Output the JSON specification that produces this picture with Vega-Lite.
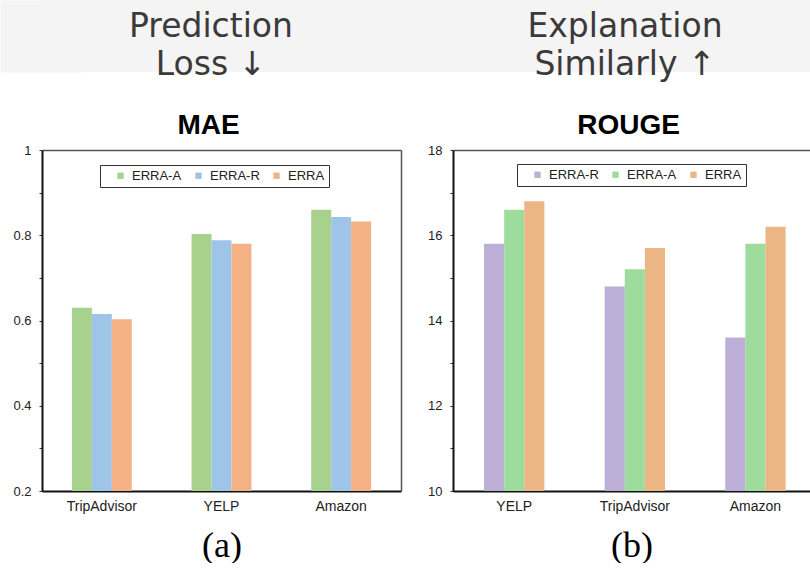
{
  "$schema": "https://vega.github.io/schema/vega-lite/v6.json",
  "background": "white",
  "padding": 0,
  "config": {"view": {"stroke": null}},
  "datasets": {
    "head": [
      {"panel": "a", "label": "Prediction\nLoss ↓"},
      {"panel": "b", "label": "Explanation\nSimilarly ↑"}
    ],
    "mae": [
      {"dataset": "TripAdvisor", "model": "ERRA-A", "value": 0.630},
      {"dataset": "TripAdvisor", "model": "ERRA-R", "value": 0.615},
      {"dataset": "TripAdvisor", "model": "ERRA", "value": 0.603},
      {"dataset": "YELP", "model": "ERRA-A", "value": 0.803},
      {"dataset": "YELP", "model": "ERRA-R", "value": 0.788},
      {"dataset": "YELP", "model": "ERRA", "value": 0.780},
      {"dataset": "Amazon", "model": "ERRA-A", "value": 0.860},
      {"dataset": "Amazon", "model": "ERRA-R", "value": 0.843},
      {"dataset": "Amazon", "model": "ERRA", "value": 0.832}
    ],
    "rouge": [
      {"dataset": "YELP", "model": "ERRA-R", "value": 15.8},
      {"dataset": "YELP", "model": "ERRA-A", "value": 16.6},
      {"dataset": "YELP", "model": "ERRA", "value": 16.8},
      {"dataset": "TripAdvisor", "model": "ERRA-R", "value": 14.8},
      {"dataset": "TripAdvisor", "model": "ERRA-A", "value": 15.2},
      {"dataset": "TripAdvisor", "model": "ERRA", "value": 15.7},
      {"dataset": "Amazon", "model": "ERRA-R", "value": 13.6},
      {"dataset": "Amazon", "model": "ERRA-A", "value": 15.8},
      {"dataset": "Amazon", "model": "ERRA", "value": 16.2}
    ]
  },
  "vconcat": [
    {
      "width": 768,
      "height": 72,
      "view": {"fill": "#f4f4f4", "stroke": null},
      "data": {"name": "head"},
      "mark": {"type": "text", "font": "DejaVu Sans", "fontSize": 33, "color": "#3a3a3a", "lineBreak": "\n", "baseline": "alphabetic", "align": "center", "lineHeight": 38, "dx": -8, "dy": -35},
      "encoding": {
        "x": {"field": "panel", "type": "nominal", "scale": {"type": "point", "padding": 0.4275}, "axis": null},
        "y": {"datum": 0, "type": "quantitative", "scale": {"domain": [0, 1]},
          "axis": {"orient": "left", "title": null, "labels": false, "ticks": false, "grid": false, "domain": true, "domainColor": "#f4f4f4", "domainWidth": 84, "domainCap": "butt", "minExtent": 0, "maxExtent": 0}},
        "text": {"field": "label", "type": "nominal"}
      }
    },
    {
      "hconcat": [
        {
          "width": 359,
          "height": 341,
          "title": {"text": "MAE", "font": "Liberation Sans", "fontSize": 28, "fontWeight": "bold", "color": "#000", "anchor": "middle", "dx": -13},
          "data": {"name": "mae"},
          "layer": [
            {
              "mark": {"type": "bar", "clip": true},
              "encoding": {
                "x": {"field": "dataset", "type": "nominal", "sort": ["TripAdvisor", "YELP", "Amazon"],
                  "scale": {"paddingInner": 0.5, "paddingOuter": 0.25, "align": 0.5},
                  "axis": {"title": "(a)", "orient": "bottom", "labelAngle": 0, "ticks": false, "domainColor": "#111", "domainWidth": 2, "labelFont": "Liberation Sans", "labelFontSize": 14, "labelColor": "#222", "labelPadding": 8, "titleFont": "Liberation Serif", "titleFontSize": 36, "titleFontWeight": "normal", "titleColor": "#000", "titlePadding": 15}},
                "xOffset": {"field": "model", "type": "nominal", "sort": ["ERRA-A", "ERRA-R", "ERRA"], "scale": {"paddingInner": 0, "paddingOuter": 0}},
                "y": {"field": "value", "type": "quantitative", "scale": {"domain": [0.2, 1], "nice": false, "zero": false},
                  "axis": {"title": null, "grid": false, "values": [0.2, 0.3, 0.4, 0.5, 0.6, 0.7, 0.8, 0.9, 1], "labelExpr": "round(datum.value*10) % 2 == 0 ? (datum.value == 1 ? '1' : datum.label) : ''", "tickSize": 3, "tickColor": "#333", "domainColor": "#111", "domainWidth": 2, "labelFont": "Liberation Sans", "labelFontSize": 13, "labelColor": "#222", "labelPadding": 8, "minExtent": 42}},
                "color": {"field": "model", "type": "nominal", "sort": ["ERRA-A", "ERRA-R", "ERRA"],
                  "scale": {"domain": ["ERRA-A", "ERRA-R", "ERRA"], "range": ["#a8d18e", "#9ec4e8", "#f4b183"]},
                  "legend": {"title": null, "orient": "none", "legendX": 58, "legendY": 15, "direction": "horizontal", "columns": 3, "symbolType": "square", "symbolSize": 40, "symbolStrokeWidth": 0, "labelFont": "Liberation Sans", "labelFontSize": 13, "labelColor": "#222", "labelOffset": 5, "columnPadding": -2, "padding": 4, "symbolOffset": 10, "strokeColor": "#333", "fillColor": "#fff"}}
              }
            },
            {
              "mark": {"type": "bar", "opacity": 0, "clip": true},
              "encoding": {
                "x": {"field": "dataset", "type": "nominal", "sort": ["TripAdvisor", "YELP", "Amazon"],
                  "axis": {"orient": "top", "title": null, "labels": false, "ticks": false, "domainColor": "#555", "domainWidth": 1.5, "minExtent": 0, "maxExtent": 0, "offset": 0}},
                "y": {"field": "value", "type": "quantitative",
                  "axis": {"orient": "right", "title": null, "labels": false, "ticks": false, "grid": false, "domainColor": "#555", "domainWidth": 1.5, "minExtent": 0, "maxExtent": 0, "offset": 0}}
              }
            }
          ],
          "resolve": {"axis": {"x": "independent", "y": "independent"}}
        },
        {
          "width": 357,
          "height": 341,
          "title": {"text": "ROUGE", "font": "Liberation Sans", "fontSize": 28, "fontWeight": "bold", "color": "#000", "anchor": "middle", "dx": -3},
          "data": {"name": "rouge"},
          "layer": [
            {
              "mark": {"type": "bar", "clip": true},
              "encoding": {
                "x": {"field": "dataset", "type": "nominal", "sort": ["YELP", "TripAdvisor", "Amazon"],
                  "scale": {"paddingInner": 0.5, "paddingOuter": 0.23, "align": 0.56},
                  "axis": {"title": "(b)", "orient": "bottom", "labelAngle": 0, "ticks": false, "domainColor": "#111", "domainWidth": 2, "labelFont": "Liberation Sans", "labelFontSize": 14, "labelColor": "#222", "labelPadding": 8, "titleFont": "Liberation Serif", "titleFontSize": 36, "titleFontWeight": "normal", "titleColor": "#000", "titlePadding": 15}},
                "xOffset": {"field": "model", "type": "nominal", "sort": ["ERRA-R", "ERRA-A", "ERRA"], "scale": {"paddingInner": 0, "paddingOuter": 0}},
                "y": {"field": "value", "type": "quantitative", "scale": {"domain": [10, 18], "nice": false, "zero": false},
                  "axis": {"title": null, "grid": false, "values": [10, 11, 12, 13, 14, 15, 16, 17, 18], "labelExpr": "datum.value % 2 == 0 ? datum.label : ''", "tickSize": 3, "tickColor": "#333", "domainColor": "#111", "domainWidth": 2, "labelFont": "Liberation Sans", "labelFontSize": 13, "labelColor": "#222", "labelPadding": 8, "minExtent": 30}},
                "color": {"field": "model", "type": "nominal", "sort": ["ERRA-R", "ERRA-A", "ERRA"],
                  "scale": {"domain": ["ERRA-R", "ERRA-A", "ERRA"], "range": ["#bdaed8", "#9edc9e", "#ecb584"]},
                  "legend": {"title": null, "orient": "none", "legendX": 64, "legendY": 14, "direction": "horizontal", "columns": 3, "symbolType": "square", "symbolSize": 40, "symbolStrokeWidth": 0, "labelFont": "Liberation Sans", "labelFontSize": 13, "labelColor": "#222", "labelOffset": 5, "columnPadding": -2, "padding": 4, "symbolOffset": 10, "strokeColor": "#333", "fillColor": "#fff"}}
              }
            },
            {
              "mark": {"type": "bar", "opacity": 0, "clip": true},
              "encoding": {
                "x": {"field": "dataset", "type": "nominal", "sort": ["YELP", "TripAdvisor", "Amazon"],
                  "axis": {"orient": "top", "title": null, "labels": false, "ticks": false, "domainColor": "#555", "domainWidth": 1.5, "minExtent": 0, "maxExtent": 0, "offset": 0}},
                "y": {"field": "value", "type": "quantitative"}
              }
            }
          ],
          "resolve": {"axis": {"x": "independent"}}
        }
      ],
      "spacing": 22,
      "resolve": {"scale": {"color": "independent", "xOffset": "independent"}}
    }
  ],
  "spacing": 30
}
